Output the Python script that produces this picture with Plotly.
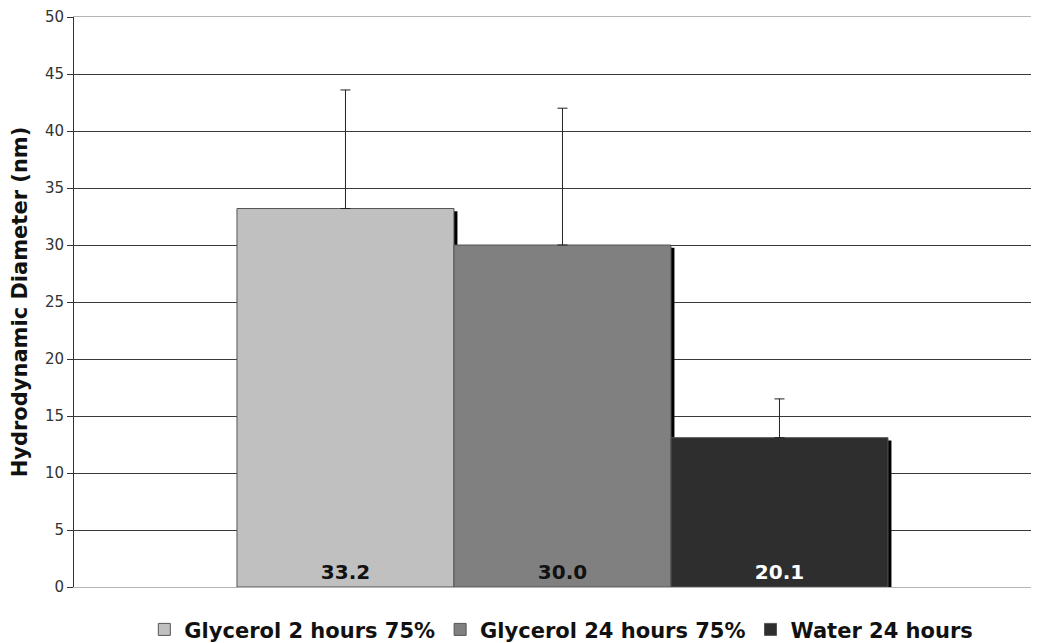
import plotly.graph_objects as go

series_names = ["Glycerol 2 hours 75%", "Glycerol 24 hours 75%", "Water 24 hours"]
bar_heights = [33.2, 30.0, 13.1]
error_plus = [10.4, 12.0, 3.4]
bar_labels = ["33.2", "30.0", "20.1"]
bar_colors = ["#c0c0c0", "#808080", "#2e2e2e"]
label_colors = ["#111111", "#111111", "#ffffff"]
y_ticks = [0, 5, 10, 15, 20, 25, 30, 35, 40, 45, 50]

positions = list(range(len(series_names)))

fig = go.Figure()

# shadows
for i, h in enumerate(bar_heights):
    fig.add_trace(go.Bar(
        x=[positions[i] + 0.016], y=[h - 0.25], width=[1.0],
        marker=dict(color="#000000", line=dict(width=0)),
        showlegend=False, hoverinfo="skip",
    ))

for i, name in enumerate(series_names):
    fig.add_trace(go.Bar(
        x=[positions[i]], y=[bar_heights[i]], width=[1.0], name=name,
        marker=dict(color=bar_colors[i], line=dict(color="#555555", width=1)),
        text=[bar_labels[i]], textposition="inside", insidetextanchor="start",
        textangle=0,
        textfont=dict(family="DejaVu Sans", size=20, color=label_colors[i], weight="bold"),
        error_y=dict(type="data", symmetric=False, array=[error_plus[i]], arrayminus=[0],
                     color="#222222", thickness=1, width=5),
    ))

fig.update_layout(
    width=1031, height=635,
    barmode="overlay",
    paper_bgcolor="white", plot_bgcolor="white",
    margin=dict(l=66, r=0, t=9, b=56, autoexpand=False),
    font=dict(family="DejaVu Sans", color="#333333"),
    showlegend=True,
    legend=dict(orientation="h", x=0.505, xanchor="center", y=-0.075, yanchor="middle",
                font=dict(family="DejaVu Sans", size=21, color="#111111", weight="bold"),
                itemwidth=30, tracegroupgap=0, itemclick=False),
)
fig.update_xaxes(range=[-1.251, 3.196], showticklabels=False, showgrid=False,
                 zeroline=False, showline=True, mirror=True, linecolor="#b4b4b4",
                 linewidth=1, ticks="")
fig.update_yaxes(range=[0, 50], tickvals=y_ticks, ticks="outside", ticklen=6,
                 tickcolor="#333333", tickfont=dict(size=15, color="#333333"),
                 showgrid=True, gridcolor="#3a3a3a", gridwidth=1,
                 showline=True, linecolor="#333333", linewidth=1,
                 zeroline=False,
                 title=dict(text="Hydrodynamic Diameter (nm)",
                            font=dict(size=21, color="#111111", weight="bold"), standoff=13))

fig.write_html("out.html")
